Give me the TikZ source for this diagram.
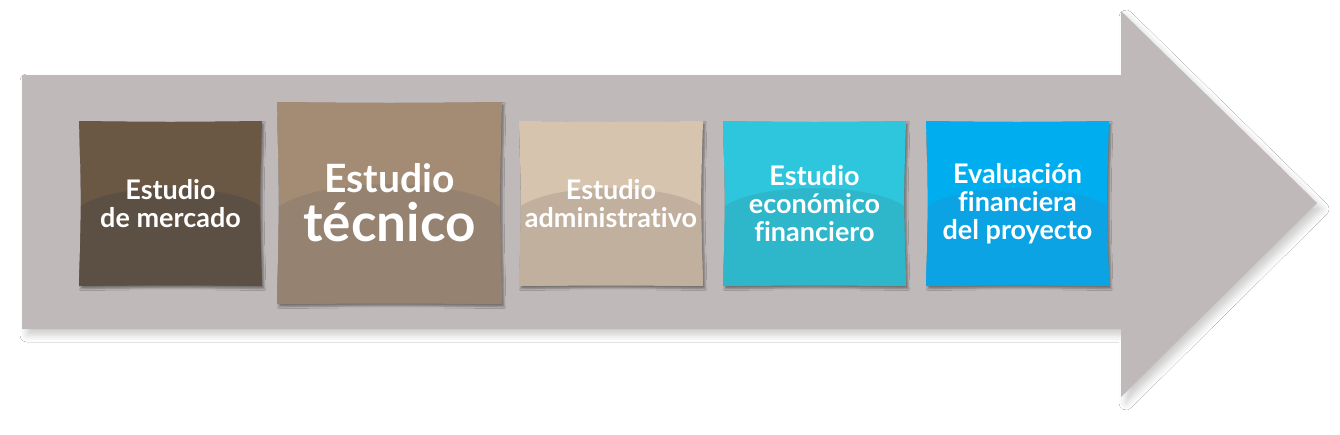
\documentclass[tikz,border=0pt]{standalone}
\usepackage{fontspec}
\setmainfont{Lato}[Ligatures=NoCommon]
\usetikzlibrary{shadows.blur}
\definecolor{arrowc}{HTML}{BFB9B9}
\definecolor{aT}{HTML}{6A5845}\definecolor{aB}{HTML}{5C4F43}
\definecolor{bT}{HTML}{A38B74}\definecolor{bB}{HTML}{958270}
\definecolor{cT}{HTML}{D6C4AE}\definecolor{cB}{HTML}{C1B09E}
\definecolor{dT}{HTML}{2EC6DD}\definecolor{dB}{HTML}{2EB6CB}
\definecolor{eT}{HTML}{00AEF0}\definecolor{eB}{HTML}{0BA3E3}
\tikzset{
  boxtext/.style={text=white, align=center, inner sep=0pt},
  smalltext/.style={font=\bfseries\fontsize{27}{28}\selectfont},
  boxshadow/.style={blur shadow={shadow xshift=2pt, shadow yshift=-2.5pt, shadow blur radius=2pt, shadow opacity=40}},
  arrowshadow/.style={blur shadow={shadow xshift=5pt, shadow yshift=-6pt, shadow blur radius=7pt, shadow opacity=20}},
}
\newcommand{\gbox}[9]{%
  \fill[#6, boxshadow] (#2,#3) .. controls ({(#2+#4)/2},{#3+1}) .. (#4,#3)
     .. controls ({#4-2.5},{(#3+#5)/2}) .. (#4,#5)
     .. controls ({(#2+#4)/2},{#5-1}) .. (#2,#5)
     .. controls ({#2+2.5},{(#3+#5)/2}) .. cycle;
  \begin{scope}
  \clip (#2,#3) .. controls ({(#2+#4)/2},{#3+1}) .. (#4,#3)
     .. controls ({#4-2.5},{(#3+#5)/2}) .. (#4,#5)
     .. controls ({(#2+#4)/2},{#5-1}) .. (#2,#5)
     .. controls ({#2+2.5},{(#3+#5)/2}) .. cycle;
  \fill[#7] ({#2-5},{#3+0.55*(#5-#3)}) .. controls ({#2+0.12*(#4-#2)},{#3+0.36*(#5-#3)}) and ({#4-0.12*(#4-#2)},{#3+0.36*(#5-#3)}) .. ({#4+5},{#3+0.55*(#5-#3)}) -- ({#4+5},{#5+5}) -- ({#2-5},{#5+5}) -- cycle;
  \end{scope}
  \node[boxtext, #9] (#1) at ({(#2+#4)/2},{(#3+#5)/2}) {#8};
}
\begin{document}
\begin{tikzpicture}[x=1pt,y=-1pt]
\useasboundingbox[fill=white] (0,0) rectangle (1340,434);
\fill[arrowc, arrowshadow] (22,75) -- (1121,75) -- (1121,11) -- (1317,203) -- (1121,397) -- (1121,329) -- (22,329) -- cycle;
\gbox{m}{79}{121}{262}{286}{aT}{aB}{Estudio\\de mercado}{smalltext}
\gbox{t}{277}{102}{502}{304}{bT}{bB}{Estudio\\[9pt]{\fontsize{53}{53}\selectfont técnico}}{font=\bfseries\fontsize{39}{40}\selectfont}
\gbox{a}{519}{121}{703}{286}{cT}{cB}{Estudio\\administrativo}{smalltext}
\gbox{e}{723}{121}{906}{286}{dT}{dB}{Estudio\\económico\\financiero}{smalltext}
\gbox{f}{926}{121}{1109}{286}{eT}{eB}{Evaluación\\financiera\\del proyecto}{smalltext}
\end{tikzpicture}
\end{document}
